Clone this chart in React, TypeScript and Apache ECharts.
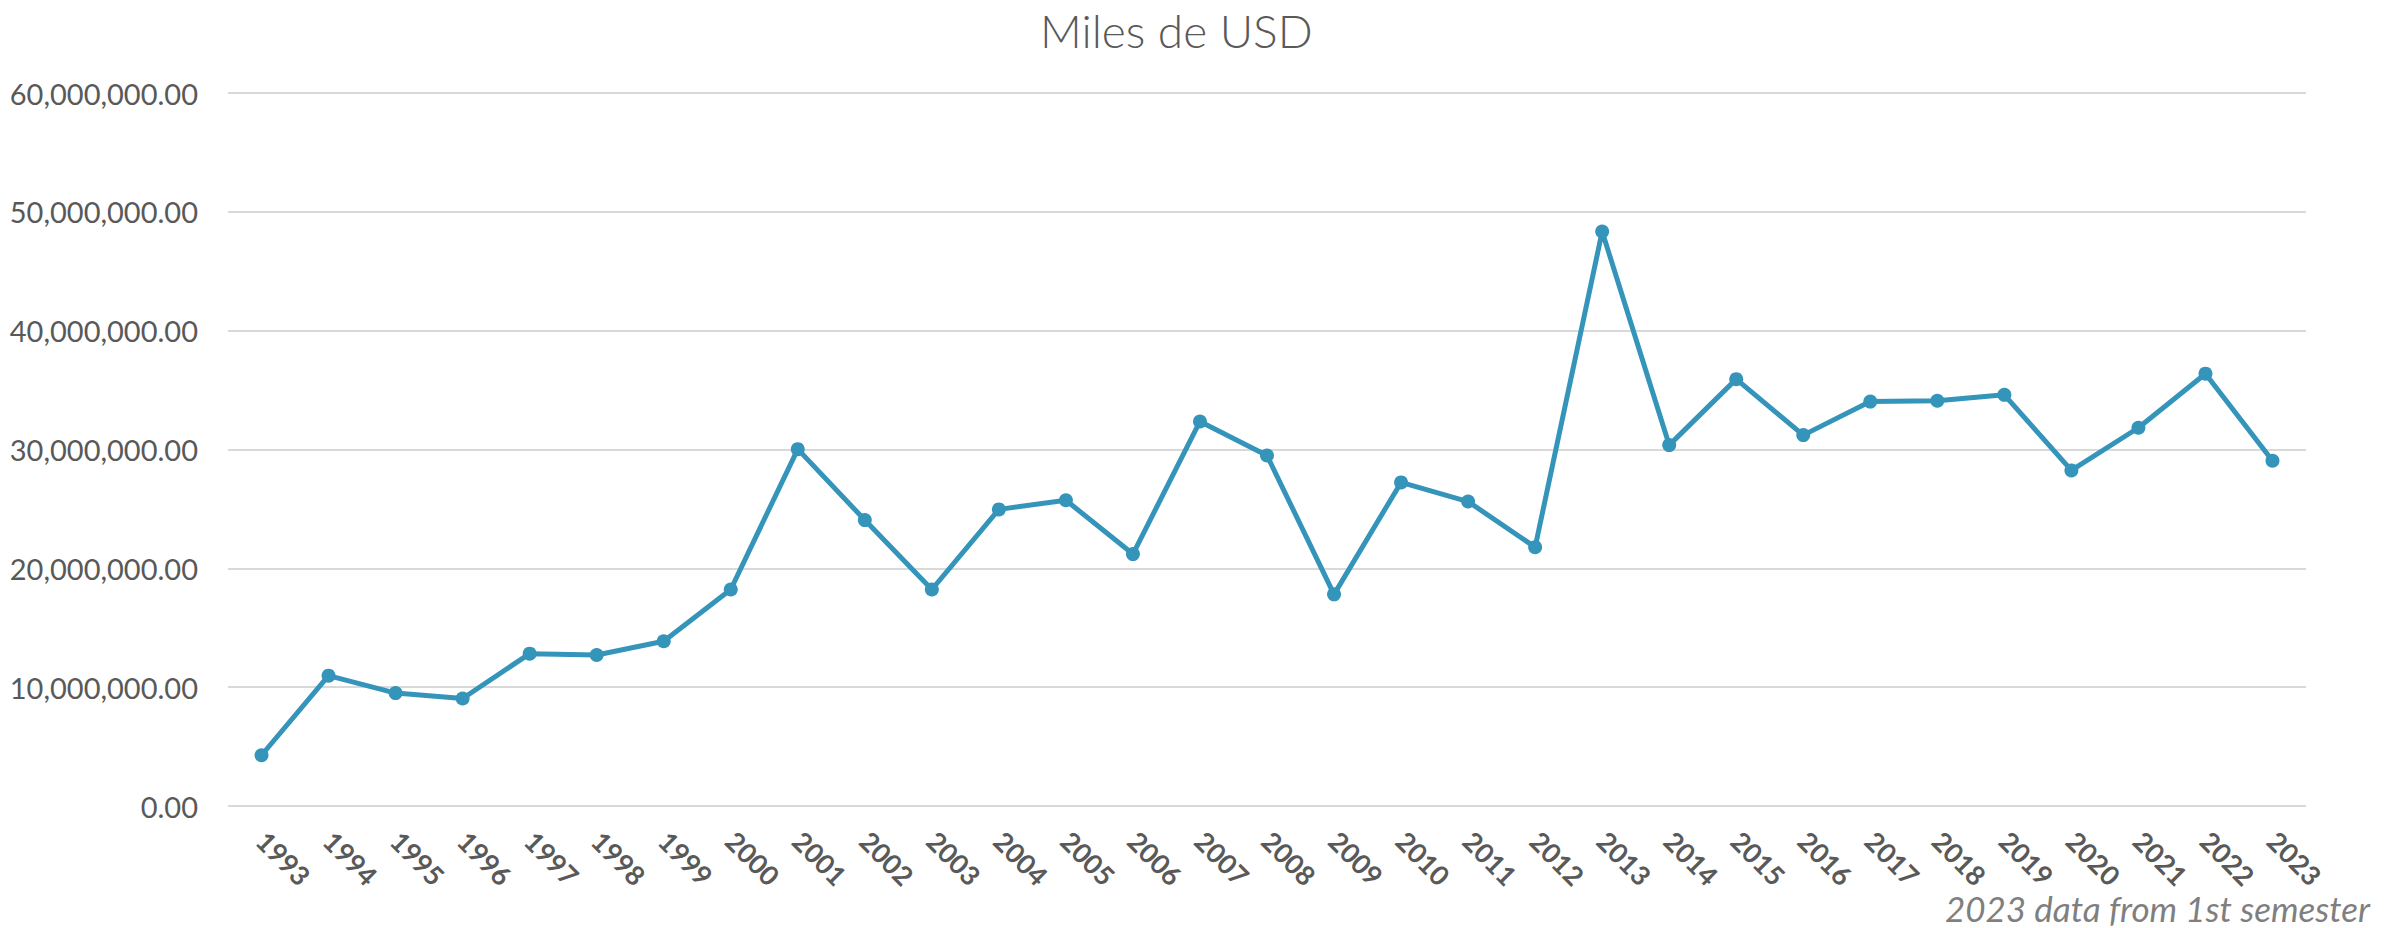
import React, { useEffect, useRef } from "react";
import * as echarts from "echarts";

const years = [
  "1993", "1994", "1995", "1996", "1997", "1998", "1999", "2000", "2001", "2002",
  "2003", "2004", "2005", "2006", "2007", "2008", "2009", "2010", "2011", "2012",
  "2013", "2014", "2015", "2016", "2017", "2018", "2019", "2020", "2021", "2022", "2023",
];

const valuesUSD = [
  4270000, 10970000, 9500000, 9050000, 12820000, 12710000, 13860000, 18220000, 30030000, 24060000,
  18220000, 24960000, 25730000, 21200000, 32360000, 29500000, 17810000, 27230000, 25620000, 21780000,
  48340000, 30370000, 35920000, 31210000, 34030000, 34100000, 34600000, 28240000, 31830000, 36380000, 29050000,
];

const chartTitle = "Miles de USD";
const footnote = "2023 data from 1st semester";

const FONT = "Lato, 'Open Sans', sans-serif";

export default function App() {
  const ref = useRef<HTMLDivElement>(null);

  useEffect(() => {
    if (!ref.current) return;
    const chart = echarts.init(ref.current, undefined, { renderer: "svg" });
    chart.setOption({
      animation: false,
      backgroundColor: "#ffffff",
      title: {
        text: chartTitle,
        left: 1035,
        top: 2,
        textStyle: { fontFamily: FONT, fontSize: 46, fontWeight: 300, color: "#595959" },
      },
      graphic: [
        {
          type: "text",
          right: 32,
          top: 890,
          style: {
            text: footnote,
            font: `italic 35px ${FONT}`,
            fill: "#7f7f7f",
          },
        },
      ],
      grid: { left: 228, right: 96, top: 93, bottom: 122, containLabel: false },
      xAxis: {
        type: "category",
        data: years,
        boundaryGap: true,
        axisLine: { show: false },
        axisTick: { show: false },
        axisLabel: {
          rotate: -45,
          interval: 0,
          margin: 30,
          fontFamily: FONT,
          fontSize: 27,
          fontWeight: "bold",
          color: "#595959",
        },
      },
      yAxis: {
        type: "value",
        min: 0,
        max: 60000000,
        interval: 10000000,
        axisLine: { show: false },
        axisTick: { show: false },
        splitLine: { lineStyle: { color: "#d9d9d9", width: 2 } },
        axisLabel: {
          margin: 30,
          fontFamily: FONT,
          fontSize: 29,
          color: "#595959",
          formatter: (v: number) =>
            v.toLocaleString("en-US", { minimumFractionDigits: 2, maximumFractionDigits: 2 }),
        },
      },
      series: [
        {
          type: "line",
          data: valuesUSD,
          symbol: "circle",
          symbolSize: 14,
          lineStyle: { color: "#3494BA", width: 5 },
          itemStyle: { color: "#3494BA" },
        },
      ],
    });
    return () => chart.dispose();
  }, []);

  return (
    <div
      ref={ref}
      style={{ position: "fixed", left: 0, top: 0, width: 2402, height: 928 }}
    />
  );
}
